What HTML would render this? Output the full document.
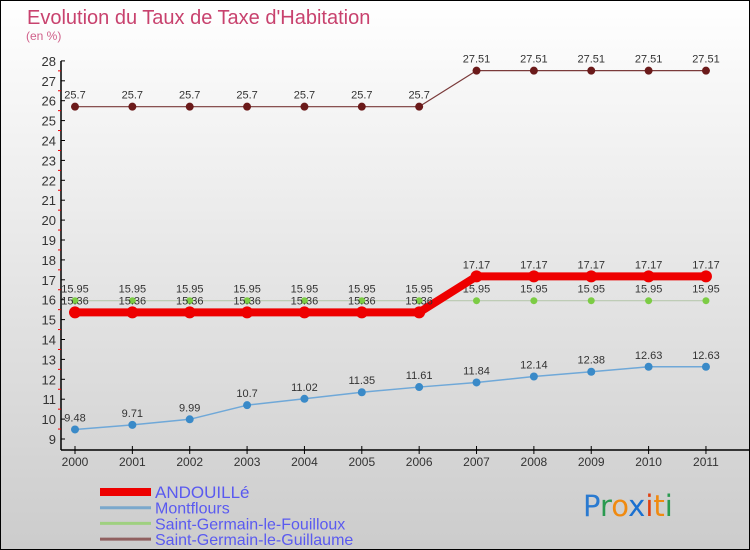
<!DOCTYPE html>
<html><head><meta charset="utf-8"><style>
body{margin:0}
#c{width:750px;height:550px;position:relative;box-sizing:border-box;border:1px solid #000;background:linear-gradient(#fff,#ccc);font-family:"Liberation Sans",sans-serif;overflow:hidden}
</style></head><body>
<div id="c">
<svg id="s" width="750" height="550" style="position:absolute;left:-1px;top:-1px"></svg>
</div>
<script>
const years=["2000","2001","2002","2003","2004","2005","2006","2007","2008","2009","2010","2011"];
const andouille=[15.36,15.36,15.36,15.36,15.36,15.36,15.36,17.17,17.17,17.17,17.17,17.17];
const montflours=[9.48,9.71,9.99,10.7,11.02,11.35,11.61,11.84,12.14,12.38,12.63,12.63];
const fouilloux=[15.95,15.95,15.95,15.95,15.95,15.95,15.95,15.95,15.95,15.95,15.95,15.95];
const guillaume=[25.7,25.7,25.7,25.7,25.7,25.7,25.7,27.51,27.51,27.51,27.51,27.51];
const yTicks=[9,10,11,12,13,14,15,16,17,18,19,20,21,22,23,24,25,26,27,28];
const s=document.getElementById('s');const NS='http://www.w3.org/2000/svg';
function el(t,a,p){const e=document.createElementNS(NS,t);for(const k in a)e.setAttribute(k,a[k]);(p||s).appendChild(e);return e;}
const X=i=>75+i*57.36, Y=v=>439-(v-9)*19.9;
function tx(x,y,str,a,p){const e=el('text',Object.assign({x:x,y:y,'font-size':12,fill:'#333'},a),p);e.textContent=str;return e;}
let t=tx(27,24,'Evolution du Taux de Taxe d\'Habitation',{'font-size':20,fill:'#c8426e'});


t=tx(26,40,'(en %)',{'font-size':12,fill:'#d0608a'});


let ax=el('line',{x1:61,y1:61,x2:61,y2:450,stroke:'#000','stroke-width':1.5});


ax=el('line',{x1:61,y1:450,x2:750,y2:450,stroke:'#000','stroke-width':1.5});


yTicks.forEach(v=>{el('line',{x1:61,y1:Y(v),x2:65,y2:Y(v),stroke:'#000'});
 if(v<28)el('line',{x1:58,y1:Y(v+0.5),x2:61,y2:Y(v+0.5),stroke:'#e00'});
 const e=tx(56,Y(v)+5,String(v),{'text-anchor':'end','font-size':13});
 
 });
years.forEach((y,i)=>{el('line',{x1:X(i),y1:446,x2:X(i),y2:454,stroke:'#000'});
 const e=tx(X(i),466,y,{'text-anchor':'middle','font-size':12});
 
 });
function series(d,name,col,w,r,dot,labels){
 const g=el('g',{});
 el('polyline',{points:d.map((v,i)=>X(i)+','+Y(v)).join(' '),fill:'none',stroke:col,'stroke-width':w,'stroke-linejoin':'round'},g);
 d.forEach((v,i)=>{const c=el('circle',{cx:X(i),cy:Y(v),r:r,fill:dot},g);
  
  if(labels){tx(X(i),Y(v)-8,String(v),{'text-anchor':'middle','font-size':11},g);}});
}
series(guillaume,'saint-germain-le-guillaume','#7a3a3a',1.2,4,'#6b1a1a',true);
series(fouilloux,'saint-germain-le-fouilloux','#b8c8b0',1.2,3.5,'#7ccc44',true);
series(montflours,'montflours','#6fa8d8',1.5,4,'#3a8ac8',true);
series(andouille,'andouille','#ee0000',8,6,'#ee0000',false);
andouille.forEach((v,i)=>{const e=tx(X(i),Y(v)-8,String(v),{'text-anchor':'middle','font-size':11});
 });
const leg=[['ANDOUILLé','#ee0000',8],['Montflours','#7aa8cc',3],['Saint-Germain-le-Fouilloux','#9fd080',3],['Saint-Germain-le-Guillaume','#906060',3]];
leg.forEach((l,i)=>{const y=492+i*15.7;const g=el('g',{});
 
 el('line',{x1:100,y1:y,x2:151,y2:y,stroke:l[1],'stroke-width':l[2]},g);
 tx(155,y+6,l[0],{'font-size':i==0?17:16,fill:'#5a5af0'},g);});
const lg=el('text',{x:583,y:516,'font-size':29,'font-family':'DejaVu Sans, sans-serif'});

[['P','#2a7ad0'],['r','#2a9a50'],['o','#f08a10'],['x','#1a70d0'],['i','#e04010'],['t','#f08a10'],['i','#2a9a50']].forEach(p=>{const ts=el('tspan',{fill:p[1]},lg);ts.textContent=p[0];});
</script>
</body></html>
